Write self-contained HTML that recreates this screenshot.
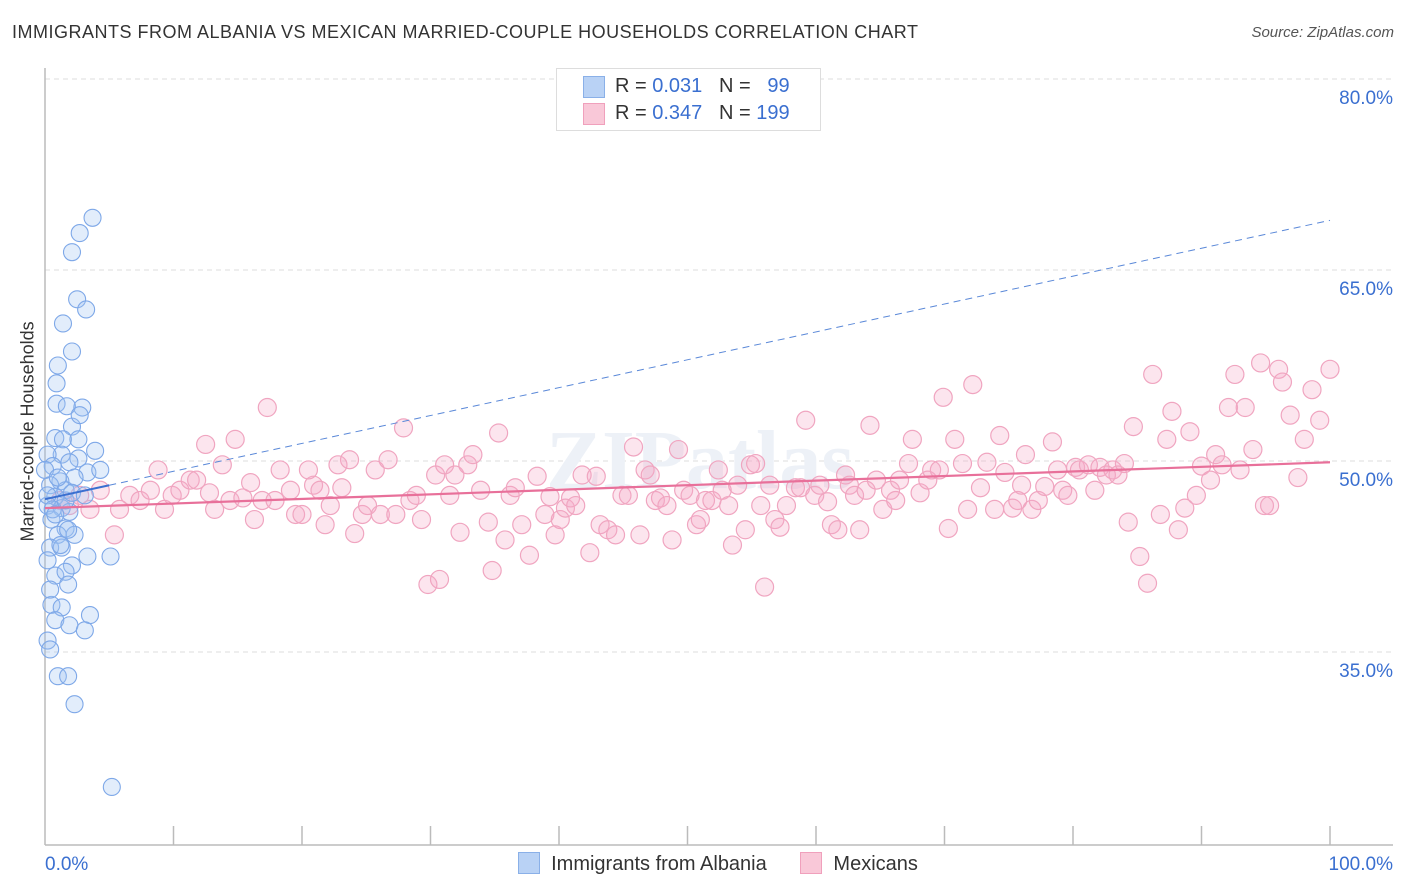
<!DOCTYPE html>
<html><head><meta charset="utf-8"><style>
body{margin:0;background:#fff;font-family:"Liberation Sans",sans-serif;}
#wrap{position:relative;width:1406px;height:892px;overflow:hidden;}
.t{position:absolute;white-space:nowrap;}
</style></head><body>
<div id="wrap">
<div class="t" style="left:12px;top:22px;font-size:18px;letter-spacing:0.5px;color:#333;">IMMIGRANTS FROM ALBANIA VS MEXICAN MARRIED-COUPLE HOUSEHOLDS CORRELATION CHART</div>
<div class="t" style="right:12px;top:24px;font-size:15px;color:#555;font-style:italic;">Source: ZipAtlas.com</div>
<div class="t" style="left:-57px;top:446px;font-size:18px;color:#333;transform:rotate(-90deg);width:170px;text-align:center;">Married-couple Households</div>
<svg id="plot" width="1406" height="892" style="position:absolute;left:0;top:0"></svg>
<div style="position:absolute;left:556px;top:68px;width:263px;height:61px;border:1px solid #ddd;background:#fff;font-size:20px;">
 <div style="position:absolute;left:26px;top:7px;width:20px;height:20px;background:#b9d2f5;border:1px solid #8ab0e8;"></div>
 <div class="t" style="left:58px;top:6px;color:#333">R = <span style="color:#3a6fd0">0.031</span>&nbsp;&nbsp;&nbsp;N = &nbsp;&nbsp;<span style="color:#3a6fd0">99</span></div>
 <div style="position:absolute;left:26px;top:34px;width:20px;height:20px;background:#f9c8d8;border:1px solid #f0a0bc;"></div>
 <div class="t" style="left:58px;top:33px;color:#333">R = <span style="color:#3a6fd0">0.347</span>&nbsp;&nbsp;&nbsp;N = <span style="color:#3a6fd0">199</span></div>
</div>
<div style="position:absolute;left:518px;top:852px;font-size:20px;color:#333;">
 <span style="display:inline-block;width:20px;height:20px;background:#b9d2f5;border:1px solid #8ab0e8;vertical-align:-4px"></span>&nbsp; Immigrants from Albania
 <span style="display:inline-block;width:20px;height:20px;background:#f9c8d8;border:1px solid #f0a0bc;vertical-align:-4px;margin-left:28px"></span>&nbsp; Mexicans
</div>
</div>
<script>
const yTicks=[80,65,50,35];
const yTickLabels=["80.0%","65.0%","50.0%","35.0%"];
const xTickLabels=["0.0%","100.0%"];
const blueX=[3.7,2.7,2.1,2.5,3.2,1.4,2.1,1.0,0.9,0.9,2.9,1.7,2.1,0.8,1.4,3.9,1.3,0.2,2.6,0.6,1.9,3.3,2.3,1.2,0.4,1.6,0.8,0.2,1.3,1.9,0.5,1.6,1.0,2.3,0.4,1.3,3.3,5.1,2.1,0.8,1.6,1.8,0.5,1.3,3.5,0.8,1.9,3.1,1.0,1.8,2.3,5.2,0.2,0.4,0,0.2,0.6,1.0,1.6,2.7,4.3,1.2,1.8,0.8,0.2,2.1,3.1,2.6,0.4];
const blueY=[69.1,67.9,66.4,62.7,61.9,60.8,58.6,57.5,56.1,54.5,54.2,54.3,52.7,51.8,51.7,50.8,50.5,50.5,50.2,49.6,49.9,49.1,48.7,48.4,48.1,47.7,47.2,46.5,46.3,46.0,45.4,44.7,44.2,44.2,43.2,43.2,42.5,42.5,41.8,41.0,41.3,40.3,38.7,38.5,37.9,37.5,37.1,36.7,33.1,33.1,30.9,24.4,35.9,35.2,49.3,47.3,46.2,48.7,46.9,53.6,49.3,43.4,44.6,45.8,42.2,47.5,47.3,51.7,39.9];
const pinkX=[1.2,1.9,2.7,3.5,4.3,5.4,5.8,6.6,7.4,8.2,8.8,9.3,9.9,10.5,11.3,11.8,12.5,12.8,13.2,13.8,14.4,14.8,15.4,16.0,16.3,16.9,17.3,17.9,18.3,19.1,19.5,20.0,20.5,20.9,21.4,21.8,22.2,22.8,23.1,23.7,24.1,24.7,25.1,25.7,26.1,26.7,27.3,27.9,28.4,28.9,29.3,29.8,30.7,30.4,31.1,31.5,31.9,32.3,32.9,33.3,33.9,34.5,34.8,35.3,35.8,36.2,36.6,37.1,37.7,38.3,38.9,39.3,39.7,40.1,40.5,40.9,41.3,41.8,42.4,42.9,43.2,43.8,44.4,44.9,45.4,45.8,46.3,46.7,47.1,47.5,47.9,48.4,48.8,49.3,49.7,50.2,50.7,51.0,51.4,51.9,52.4,52.7,53.2,53.5,53.9,54.5,54.9,55.3,55.7,56.0,56.4,56.8,57.2,57.7,58.4,58.8,59.2,59.9,60.3,60.9,61.2,61.7,62.3,62.6,63.0,63.4,63.9,64.2,64.7,65.2,65.8,66.2,66.5,67.2,67.5,68.1,68.7,69.0,69.6,69.9,70.3,70.8,71.4,71.8,72.2,72.8,73.3,73.9,74.3,74.7,75.3,75.7,76.0,76.3,76.8,77.3,77.8,78.4,78.8,79.2,79.6,80.2,80.5,81.2,81.7,82.1,82.6,83.1,83.5,84.0,84.3,84.7,85.2,85.8,86.2,86.8,87.3,87.7,88.2,88.7,89.1,89.6,90.0,90.7,91.1,91.6,92.1,92.6,93.0,93.4,94.0,94.6,94.9,95.3,96.0,96.3,96.9,97.5,98.0,98.6,99.2,100];
const pinkY=[46.9,46.5,47.3,46.2,47.7,44.2,46.2,47.3,46.9,47.7,49.3,46.2,47.3,47.7,48.5,48.5,51.3,47.5,46.2,49.7,46.9,51.7,47.1,48.3,45.4,46.9,54.2,46.9,49.3,47.7,45.8,45.8,49.3,48.1,47.7,45.0,46.5,49.7,47.9,50.1,44.3,45.8,46.5,49.3,45.8,50.1,45.8,52.6,46.9,47.3,45.4,40.3,40.7,48.9,49.7,47.3,48.9,44.4,49.7,50.5,47.7,45.2,41.4,52.2,43.8,47.3,47.9,45.0,42.6,48.8,45.8,47.2,44.2,45.4,46.3,47.1,46.5,48.9,42.8,48.8,45.0,44.6,44.2,47.3,47.3,51.1,44.2,49.3,48.9,46.9,47.1,46.5,43.8,50.9,47.7,47.3,45.0,45.4,46.9,46.9,49.3,47.7,46.5,43.4,48.1,44.6,49.7,49.8,46.5,40.1,48.1,45.4,44.8,46.5,47.9,47.9,53.2,47.3,48.1,46.8,45.0,44.6,48.9,48.1,47.3,44.6,47.7,52.8,48.5,46.2,47.7,46.9,48.5,49.8,51.7,47.5,48.5,49.3,49.3,55.0,44.7,51.7,49.8,46.2,56.0,47.9,49.9,46.2,52.0,49.1,46.3,46.9,48.1,50.5,46.2,46.9,48.0,51.5,49.3,47.7,47.3,49.5,49.3,49.7,47.7,49.5,48.9,49.3,48.9,49.8,45.2,52.7,42.5,40.4,56.8,45.8,51.7,53.9,44.6,46.3,52.3,47.3,49.6,48.5,50.5,49.7,54.2,56.8,49.3,54.2,50.9,57.7,46.5,46.5,57.2,56.2,53.6,48.7,51.7,55.6,53.2,57.2];
const blueTrend=[47.0,68.9];
const pinkTrend=[46.3,49.9];
const X0=45,X1=1330,Y80=79,PXPER=191/15;
const xs=v=>X0+(X1-X0)*v/100;
const ys=v=>Y80+(80-v)*PXPER;
const svg=document.getElementById('plot');
const NS='http://www.w3.org/2000/svg';
function mk(tag,attrs,parent){const e=document.createElementNS(NS,tag);for(const k in attrs)e.setAttribute(k,attrs[k]);(parent||svg).appendChild(e);return e;}
yTicks.forEach((v,i)=>{
 const g=mk('line',{x1:X0,x2:1393,y1:ys(v),y2:ys(v),stroke:'#ddd','stroke-dasharray':'5,4'});
 
 
 const t=mk('text',{x:1393,y:ys(v)+25,'text-anchor':'end','font-size':19,fill:'#3a6fd0','font-family':'Liberation Sans, sans-serif'});
 t.textContent=yTickLabels[i];
 
 
});
const wm=mk('text',{x:700,y:488,'text-anchor':'middle','font-size':84,fill:'#edf1f7','font-family':'Liberation Serif, serif','font-weight':'bold'});
wm.textContent='ZIPatlas';


const ya=mk('line',{x1:X0,x2:X0,y1:68,y2:845,stroke:'#bbb','stroke-width':1.5});


const xa=mk('line',{x1:X0,x2:1393,y1:845,y2:845,stroke:'#bbb','stroke-width':1.5});


for(let i=1;i<=10;i++){
 const tk=mk('line',{x1:xs(i*10),x2:xs(i*10),y1:826,y2:845,stroke:'#bbb','stroke-width':1.5});
 
 
}
[[0,'start'],[100,'end']].forEach((p,i)=>{
 const t=mk('text',{x:i?1393:45,y:870,'text-anchor':p[1],'font-size':19,fill:'#3a6fd0','font-family':'Liberation Sans, sans-serif'});
 t.textContent=xTickLabels[i];
 
 
});
pinkX.forEach((x,i)=>{
 const c=mk('circle',{cx:xs(x),cy:ys(pinkY[i]),r:9,fill:'rgba(246,170,198,0.3)',stroke:'#f0a5c0','stroke-width':1.2});
 
 
});
blueX.forEach((x,i)=>{
 const c=mk('circle',{cx:xs(x),cy:ys(blueY[i]),r:8.5,fill:'rgba(160,195,242,0.3)',stroke:'#7ea8e8','stroke-width':1.1});
 
 
});
const by=x=>blueTrend[0]+(blueTrend[1]-blueTrend[0])*x/100;
const b1=mk('line',{x1:xs(0),y1:ys(by(0)),x2:xs(5),y2:ys(by(5)),stroke:'#3a6fd0','stroke-width':2});


const b2=mk('line',{x1:xs(5),y1:ys(by(5)),x2:xs(100),y2:ys(by(100)),stroke:'#5a88d8','stroke-width':1,'stroke-dasharray':'7,5'});


const pl=mk('line',{x1:xs(0),y1:ys(pinkTrend[0]),x2:xs(100),y2:ys(pinkTrend[1]),stroke:'#e8709a','stroke-width':2.2});


</script>
</body></html>
